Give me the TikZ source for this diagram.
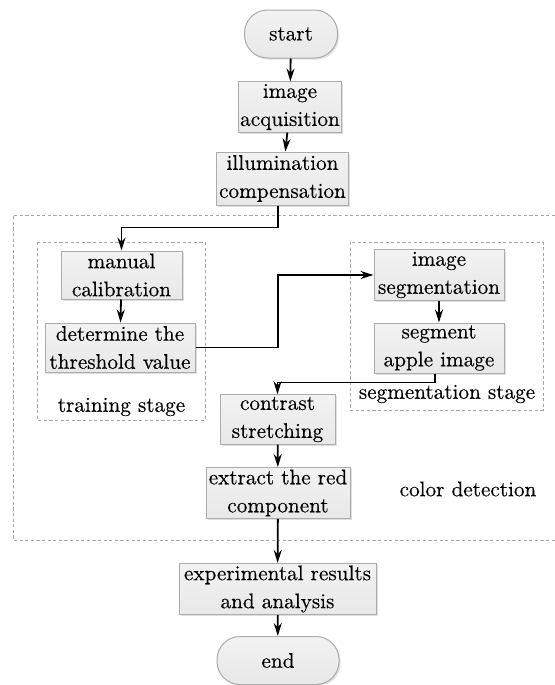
\documentclass[tikz,border=0pt]{standalone}
\usepackage{fontspec}
\setmainfont{Latin Modern Roman}[FakeBold=0.3]
\usepackage{tikz}
\usetikzlibrary{arrows.meta,shadows}
\tikzset{
  blk/.style={draw=gray!65, line width=0.5pt, top color=gray!10, middle color=white, bottom color=gray!18,
    drop shadow={opacity=0.25, shadow xshift=0.8pt, shadow yshift=-0.8pt}, align=center, inner sep=1pt,
    font=\fontsize{10.6}{14}\selectfont},
  term/.style={blk, rounded corners=11.5pt},
  flw/.style={-{Stealth[length=6.5pt,width=4pt]}, line width=0.9pt, black},
  grp/.style={draw=gray!70, line width=0.4pt, dash pattern=on 1.6pt off 1.2pt},
  lbl/.style={font=\fontsize{10.6}{14}\selectfont},
}
\begin{document}
\begin{tikzpicture}[x=0.5pt, y=-0.5pt]
  \useasboundingbox (0,0) rectangle (555,685);
  % --- groups ---
  \draw[grp] (555,215) -- (13,215) -- (13,540) -- (555,540);
  \draw[grp] (37,242) rectangle (205,420);
  \draw[grp] (350,242) rectangle (543,410);
  \node[lbl] (trn) at (121.5,407) {training stage};
  \node[lbl] (sgs) at (447,394) {segmentation stage};
  \node[lbl] (cld) at (468,489) {color detection};

  % --- main chain ---
  \node[term, minimum width=46.5pt, minimum height=24pt] (start) at (291,34) {start};
  \node[blk, minimum width=47pt, minimum height=25pt] (acq) at (290,107) {image\\acquisition};
  \node[blk, minimum width=66pt, minimum height=26.5pt] (illum) at (282.5,178.5) {illumination\\compensation};

  % --- training stage ---
  \node[blk, minimum width=60.5pt, minimum height=24pt] (manual) at (121.5,275) {manual\\calibration};
  \node[blk, minimum width=75pt, minimum height=24.5pt] (thresh) at (120,347.5) {determine the\\threshold value};

  % --- segmentation stage ---
  \node[blk, minimum width=65pt, minimum height=24pt] (imgseg) at (439,275) {image\\segmentation};
  \node[blk, minimum width=65pt, minimum height=25pt] (segapple) at (439,348) {segment\\apple image};

  % --- color detection ---
  \node[blk, minimum width=57.5pt, minimum height=23.5pt] (contrast) at (277.5,419.5) {contrast\\stretching};
  \node[blk, minimum width=72pt, minimum height=25pt] (redc) at (278,493) {extract the red\\component};
  \node[blk, minimum width=98.5pt, minimum height=25pt] (result) at (277.5,589) {experimental results\\and analysis};
  \node[term, minimum width=61pt, minimum height=24pt] (end) at (278,660.5) {end};

  % --- connectors ---
  \draw[flw] (start) -- (acq);
  \draw[flw] (acq) -- (illum);
  \draw[flw] (illum.south) ++(-4.5,0) -- ++(0,22) -| (manual.north);
  \draw[flw] (manual) -- (thresh);
  \coordinate (bend) at (278,0);
  \draw[flw] (thresh.east) -- (thresh.east -| bend) |- (imgseg.west);
  \draw[flw] (imgseg) -- (segapple);
  \draw[flw] (segapple.south) ++(-4,0) -- ++(0,9) -| (contrast.north);
  \draw[flw] (contrast) -- (redc);
  \draw[flw] (redc) -- (result);
  \draw[flw] (result) -- (end);
\end{tikzpicture}
\end{document}
